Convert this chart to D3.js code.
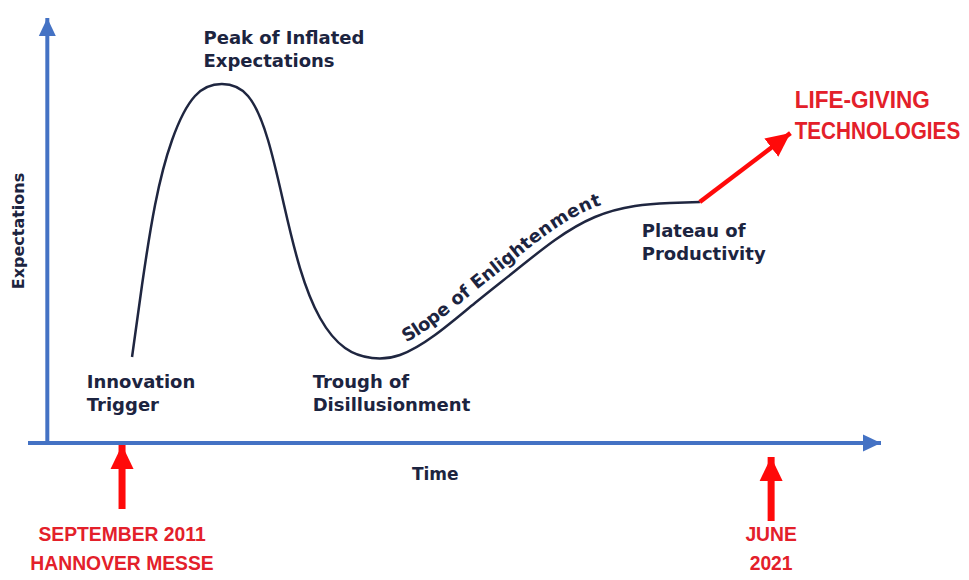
<!DOCTYPE html>
<html>
<head>
<meta charset="utf-8">
<script src="https://cdn.jsdelivr.net/npm/d3@7"></script>
<style>
  body { margin: 0; background: #fff; }
  .stage { font-family: "DejaVu Sans", "Noto Sans", sans-serif; font-weight: 700; fill: #1c2440; }
  .red { font-family: "Liberation Sans", Arial, sans-serif; font-weight: 700; fill: #e3202a; }
</style>
</head>
<body>
<div id="chart"></div>
<script>
// hype curve (time 0-100, expectations 0-100)
var curveTime   = [10.09, 11.28, 12.83, 14.86, 17.59, 20.80, 23.90, 26.28, 28.19, 30.09, 32.48, 35.46, 38.67, 42.00, 46.17, 50.93, 55.70, 60.46, 65.22, 69.98, 74.15, 77.72];
var curveExpect = [19.95, 36.66, 55.22, 70.30, 80.51, 83.29, 80.51, 70.30, 55.22, 40.60, 29.00, 22.04, 19.72, 20.42, 25.06, 32.48, 39.91, 47.10, 52.44, 54.99, 55.68, 55.92];

// red arrow beyond the plateau
var futureTime   = [77.7, 88.5];
var futureExpect = [55.9, 71.9];
var futureLabels = ["LIFE-GIVING", "TECHNOLOGIES"];

// stage labels
var stageNames = [["Peak of Inflated", "Expectations"], ["Innovation", "Trigger"], ["Trough of", "Disillusionment"], ["Plateau of", "Productivity"]];
var stageTime   = [18.6, 4.7, 31.6, 70.8];
var stageExpect = [92.6, 12.7, 12.7, 47.8];

// date markers under the time axis
var markerTime   = [8.9, 86.2];
var markerLabels = [["SEPTEMBER 2011", "HANNOVER MESSE"], ["JUNE", "2021"]];
var markerTip    = [443, 455];

var width = 969, height = 580;

var svg = d3.select("#chart")
  .append("svg")
  .attr("width", width)
  .attr("height", height);

var x = d3.scaleLinear().domain([-2.3, 100]).range([28, 887]);
var y = d3.scaleLinear().domain([0, 100]).range([443, 12]);

var defs = svg.append("defs");
defs.append("marker")
  .attr("id", "blueHead")
  .attr("markerUnits", "userSpaceOnUse")
  .attr("markerWidth", 20).attr("markerHeight", 20)
  .attr("viewBox", "0 -10 20 20")
  .attr("refX", 18).attr("refY", 0)
  .attr("orient", "auto")
  .append("path")
  .attr("d", "M0,-8.5L18,0L0,8.5Z")
  .attr("fill", "#4472c4");

defs.append("marker")
  .attr("id", "redHead")
  .attr("markerUnits", "userSpaceOnUse")
  .attr("markerWidth", 26).attr("markerHeight", 26)
  .attr("viewBox", "0 -13 26 26")
  .attr("refX", 24).attr("refY", 0)
  .attr("orient", "auto")
  .append("path")
  .attr("d", "M0,-11.5L24,0L0,11.5Z")
  .attr("fill", "#ff0a0a");

// axes
var xAxis = svg.append("g")
  .attr("transform", "translate(0," + y(0) + ")")
  .call(d3.axisBottom(x).ticks(0).tickSizeOuter(0));

var yAxis = svg.append("g")
  .attr("transform", "translate(" + x(0) + ",0)")
  .call(d3.axisLeft(y).ticks(0).tickSizeOuter(0));

svg.selectAll(".domain")
  .attr("stroke", "#4472c4")
  .attr("stroke-width", 4)
  .attr("marker-end", "url(#blueHead)");

// y axis domain path runs top -> bottom, flip it so the head sits at the top
yAxis.select(".domain").attr("d", "M0," + y(0) + "V" + (y(100) + 6));
xAxis.select(".domain").attr("d", "M" + x(-2.3) + ",0H" + (x(100) - 6));

svg.append("text")
  .attr("class", "stage")
  .attr("x", x(46.2)).attr("y", 480)
  .attr("text-anchor", "middle")
  .style("font-size", "17px")
  .text("Time");

svg.append("text")
  .attr("class", "stage")
  .attr("transform", "translate(24," + 231 + ") rotate(-90)")
  .attr("text-anchor", "middle")
  .style("font-size", "16px")
  .text("Expectations");

// hype curve
var points = curveTime.map(function(t, i) { return [t, curveExpect[i]]; });
var line = d3.line()
  .x(d => x(d[0]))
  .y(d => y(d[1]))
  .curve(d3.curveNatural);

var curve = svg.append("path")
  .attr("id", "hype")
  .attr("d", line(points))
  .attr("fill", "none")
  .attr("stroke", "#1f2640")
  .attr("stroke-width", 2.5);

// future arrow
svg.append("path")
  .attr("d", d3.line().x(d => x(d[0])).y(d => y(d[1]))(futureTime.map(function(t, i) { return [t, futureExpect[i]]; })))
  .attr("stroke", "#ff0a0a")
  .attr("stroke-width", 4.5)
  .attr("fill", "none")
  .attr("marker-end", "url(#redHead)");

// condensed look of the red caption (squeeze horizontally)
futureLabels.forEach(function(s, j) {
  svg.append("text")
    .attr("class", "red")
    .attr("transform", "translate(" + x(89.0) + "," + (108 + j * 31) + ") scale(" + (j ? 0.9 : 0.98) + ",1)")
    .style("font-size", "23px")
    .text(s);
});

// stage labels
stageNames.forEach(function(lines, i) {
  var t = svg.append("text")
    .attr("class", "stage")
    .attr("x", x(stageTime[i]))
    .attr("y", y(stageExpect[i]))
    .style("font-size", "18px");
  lines.forEach(function(s, j) {
    t.append("tspan")
      .attr("x", x(stageTime[i]))
      .attr("dy", j ? 23 : 0)
      .text(s);
  });
});

// slope label follows the curve
var node = curve.node();
var total = node.getTotalLength();
var start = 0;
for (var l = 0; l < total; l += 1) {
  if (node.getPointAtLength(l).x >= 410) { start = l; break; }
}
svg.append("text")
  .attr("class", "stage")
  .style("font-size", "18px")
  .attr("dy", -9)
  .append("textPath")
  .attr("href", "#hype")
  .attr("startOffset", start)
  .text("Slope of Enlightenment");

// date markers
markerTime.forEach(function(t, i) {
  svg.append("line")
    .attr("x1", x(t)).attr("x2", x(t))
    .attr("y1", markerTip[i] + 66).attr("y2", markerTip[i] + 2)
    .attr("stroke", "#ff0a0a")
    .attr("stroke-width", 7)
    .attr("marker-end", "url(#redHead)");
  markerLabels[i].forEach(function(s, j) {
    svg.append("text")
      .attr("class", "red")
      .attr("transform", "translate(" + x(t) + "," + (541 + j * 29) + ") scale(0.92,1)")
      .attr("text-anchor", "middle")
      .style("font-size", "21px")
      .text(s);
  });
});
</script>
</body>
</html>
